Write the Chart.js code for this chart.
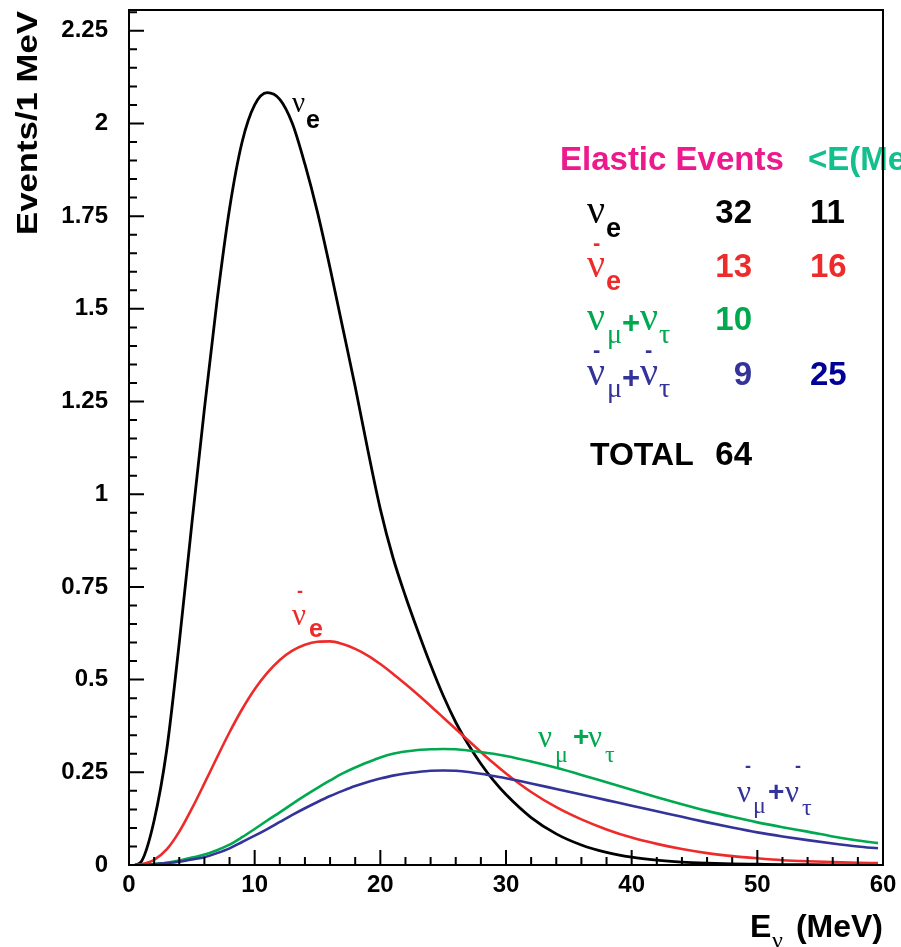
<!DOCTYPE html>
<html>
<head>
<meta charset="utf-8">
<script src="https://cdn.jsdelivr.net/npm/chart.js@4.4.1/dist/chart.umd.min.js"></script>
<style>
  html, body { margin: 0; padding: 0; background: #fff; }
  canvas { display: block; }
</style>
</head>
<body>
<canvas id="grafico" width="901" height="947"></canvas>
<script>
// ===== DADOS =====
const energias = [0.5, 1, 2, 3, 4, 5, 6, 7, 8, 9, 10, 11, 12, 13, 14, 15, 16, 17, 18, 19, 20,
    21, 22, 23, 24, 25, 26, 27, 28, 29, 30, 32, 34, 36, 38, 40, 42, 44, 46, 48, 50,
    52, 54, 56, 58, 59.6];

const nuE = [0, 0.01, 0.12, 0.31, 0.6, 0.92, 1.23, 1.52, 1.77, 1.95, 2.05, 2.083, 2.065, 2.0,
    1.89, 1.76, 1.61, 1.45, 1.29, 1.12, 0.96, 0.83, 0.725, 0.63, 0.54, 0.457, 0.385, 0.325,
    0.273, 0.228, 0.19, 0.128, 0.084, 0.054, 0.034, 0.021, 0.013, 0.008, 0.005, 0.003, 0.002,
    0.001, 0.0007, 0.0004, 0.0002, 0.0001];

const nuEbar = [0, 0.002, 0.014, 0.042, 0.09, 0.152, 0.22, 0.29, 0.358, 0.42, 0.474, 0.518,
    0.553, 0.578, 0.594, 0.602, 0.603, 0.596, 0.583, 0.565, 0.542, 0.516, 0.488, 0.459, 0.429,
    0.398, 0.367, 0.336, 0.305, 0.275, 0.247, 0.197, 0.156, 0.123, 0.096, 0.074, 0.057, 0.043,
    0.032, 0.024, 0.018, 0.013, 0.01, 0.008, 0.006, 0.005];

const nuMuTau = [0, 0, 0.003, 0.006, 0.012, 0.02, 0.028, 0.04, 0.055, 0.075, 0.097, 0.12, 0.142,
    0.165, 0.187, 0.208, 0.228, 0.247, 0.263, 0.277, 0.29, 0.3, 0.306, 0.31, 0.312, 0.313,
    0.312, 0.309, 0.305, 0.3, 0.294, 0.279, 0.262, 0.243, 0.223, 0.203, 0.183, 0.164, 0.146,
    0.13, 0.115, 0.102, 0.09, 0.077, 0.066, 0.059];

const nuMuTauBar = [0, 0, 0.002, 0.005, 0.009, 0.015, 0.021, 0.032, 0.045, 0.062, 0.079, 0.097,
    0.116, 0.135, 0.153, 0.17, 0.186, 0.2, 0.213, 0.224, 0.233, 0.241, 0.247, 0.251, 0.254,
    0.255, 0.254, 0.251, 0.246, 0.24, 0.234, 0.22, 0.205, 0.19, 0.175, 0.16, 0.145, 0.13,
    0.115, 0.101, 0.088, 0.077, 0.067, 0.058, 0.05, 0.045];

// tabela "Elastic Events"
const eventos = ["32", "13", "10", "9"];
const energiaMedia = ["11", "16", "", "25"];
const totalEventos = "64";

const Y_MAX = 2.306;

// ===== CORES =====
const PRETO = "#000000";
const VERMELHO = "#ee2b2b";
const VERDE = "#00a84f";
const AZUL = "#333399";
const AZUL_ESCURO = "#000096";
const MAGENTA = "#ec1a8c";
const TURQUESA = "#12c08e";

const SANS = "Liberation Sans";
const SERIF = "Liberation Serif";

function pontos(valores) {
    return energias.map((e, i) => ({ x: e, y: valores[i] }));
}

// desenha pedacos de texto relativos a um ponto (x, y)
function rotulo(ctx, x, y, cor, pecas) {
    ctx.fillStyle = cor;
    ctx.textAlign = "left";
    ctx.textBaseline = "alphabetic";
    pecas.forEach(p => {
        ctx.font = p[1];
        ctx.fillText(p[0], x + p[2], y + p[3]);
    });
}

function txt(ctx, t, x, y, font, cor, align) {
    ctx.font = font;
    ctx.fillStyle = cor;
    ctx.textAlign = align || "left";
    ctx.textBaseline = "alphabetic";
    ctx.fillText(t, x, y);
}

// ===== PLUGIN: moldura, ticks internos, textos =====
const extras = {
    id: "extras",
    afterDatasetsDraw(chart) {
        const ctx = chart.ctx;
        const xs = chart.scales.x;
        const ys = chart.scales.y;
        const a = chart.chartArea;

        ctx.save();

        // ---- rotulos das curvas (ancorados em coordenadas de dados) ----
        let px = xs.getPixelForValue(12.97), py = ys.getPixelForValue(2.031);
        rotulo(ctx, px, py, PRETO, [
            ["ν", "29px " + SERIF, 0, 0],
            ["e", "bold 25px " + SANS, 14, 16]
        ]);

        px = xs.getPixelForValue(12.97); py = ys.getPixelForValue(0.647);
        rotulo(ctx, px, py, VERMELHO, [
            ["-", "bold 18px " + SANS, 5, -28],
            ["ν", "31px " + SERIF, 0, 0],
            ["e", "bold 25px " + SANS, 17, 12]
        ]);

        px = xs.getPixelForValue(32.55); py = ys.getPixelForValue(0.318);
        rotulo(ctx, px, py, VERDE, [
            ["ν", "31px " + SERIF, 0, 0],
            ["μ", "24px " + SERIF, 17, 15],
            ["+", "bold 28px " + SANS, 35, -1],
            ["ν", "31px " + SERIF, 50, 0],
            ["τ", "24px " + SERIF, 67, 15]
        ]);

        px = xs.getPixelForValue(48.38); py = ys.getPixelForValue(0.170);
        rotulo(ctx, px, py, AZUL, [
            ["-", "bold 18px " + SANS, 8, -30],
            ["ν", "31px " + SERIF, 0, 0],
            ["μ", "24px " + SERIF, 16, 11],
            ["+", "bold 28px " + SANS, 31, -1],
            ["-", "bold 18px " + SANS, 58, -30],
            ["ν", "31px " + SERIF, 48, 0],
            ["τ", "24px " + SERIF, 65, 13]
        ]);

        // ---- tabela ----
        txt(ctx, "Elastic Events", 560, 170, "bold 33px " + SANS, MAGENTA);
        txt(ctx, "<E(MeV)>", 808, 170, "bold 33px " + SANS, TURQUESA);

        const nu = "40px " + SERIF;
        const sub = "bold 27px " + SANS;
        const grego = "28px " + SERIF;
        const mais = "bold 31px " + SANS;
        const barra = "bold 22px " + SANS;

        rotulo(ctx, 587, 223, PRETO, [["ν", nu, 0, 0], ["e", sub, 19, 14]]);
        rotulo(ctx, 587, 277, VERMELHO, [["-", barra, 6, -27], ["ν", nu, 0, 0], ["e", sub, 19, 13]]);
        rotulo(ctx, 587, 330, VERDE, [
            ["ν", nu, 0, 0], ["μ", grego, 20, 13], ["+", mais, 35, 3],
            ["ν", nu, 53, 0], ["τ", grego, 72, 13]
        ]);
        rotulo(ctx, 587, 385, AZUL, [
            ["-", barra, 6, -28], ["ν", nu, 0, 0], ["μ", grego, 20, 12], ["+", mais, 35, 3],
            ["-", barra, 58, -28], ["ν", nu, 53, 0], ["τ", grego, 72, 12]
        ]);

        const num = "bold 33px " + SANS;
        const linhas = [223, 277, 330, 385];
        const coresEv = [PRETO, VERMELHO, VERDE, AZUL];
        const coresE = [PRETO, VERMELHO, VERDE, AZUL_ESCURO];
        linhas.forEach((y, i) => {
            txt(ctx, eventos[i], 752, y, num, coresEv[i], "right");
            if (energiaMedia[i]) txt(ctx, energiaMedia[i], 810, y, num, coresE[i], "left");
        });
        txt(ctx, "TOTAL", 590, 465, "bold 32px " + SANS, PRETO);
        txt(ctx, totalEventos, 752, 465, num, PRETO, "right");

        // ---- moldura ----
        ctx.strokeStyle = PRETO;
        ctx.lineWidth = 2;
        ctx.strokeRect(a.left, a.top, a.right - a.left, a.bottom - a.top);

        // ---- ticks para dentro ----
        ctx.beginPath();
        for (let k = 0; k <= 30; k++) {
            const x = xs.getPixelForValue(k * 2);
            const len = (k % 5 === 0) ? 15 : 8;
            ctx.moveTo(x, a.bottom);
            ctx.lineTo(x, a.bottom - len);
        }
        const nMax = Math.floor(Y_MAX / 0.05 + 1e-6);
        for (let k = 0; k <= nMax; k++) {
            const y = ys.getPixelForValue(k * 0.05);
            const len = (k % 5 === 0) ? 15 : 8;
            ctx.moveTo(a.left, y);
            ctx.lineTo(a.left + len, y);
        }
        ctx.stroke();

        // ---- titulos dos eixos ----
        txt(ctx, "E", 750, 937, "bold 32px " + SANS, PRETO);
        txt(ctx, "ν", 772, 948, "24px " + SERIF, PRETO);
        txt(ctx, "(MeV)", 883, 937, "bold 32px " + SANS, PRETO, "right");

        ctx.save();
        ctx.translate(37, 235);
        ctx.rotate(-Math.PI / 2);
        ctx.font = "bold 30px " + SANS;
        const tituloY = "Events/1 MeV";
        const w = ctx.measureText(tituloY).width;
        ctx.scale(224 / w, 1);
        ctx.fillStyle = PRETO;
        ctx.textAlign = "left";
        ctx.textBaseline = "alphabetic";
        ctx.fillText(tituloY, 0, 0);
        ctx.restore();

        ctx.restore();
    }
};

// ===== GRAFICO =====
const ctx = document.getElementById("grafico").getContext("2d");

const serie = (valores, cor, largura) => ({
    data: pontos(valores),
    borderColor: cor,
    borderWidth: largura,
    pointRadius: 0,
    fill: false,
    cubicInterpolationMode: "monotone"
});

window.grafico = new Chart(ctx, {
    type: "line",
    data: {
        datasets: [
            serie(nuMuTauBar, AZUL, 2.6),
            serie(nuMuTau, VERDE, 2.6),
            serie(nuEbar, VERMELHO, 2.6),
            serie(nuE, PRETO, 2.8)
        ]
    },
    options: {
        responsive: false,
        animation: false,
        devicePixelRatio: 1,
        layout: { padding: { top: 10, right: 18, left: 0, bottom: 0 } },
        plugins: {
            legend: { display: false },
            tooltip: { enabled: false }
        },
        scales: {
            x: {
                type: "linear",
                min: 0,
                max: 60,
                grid: { display: false, drawTicks: false },
                border: { display: false },
                ticks: {
                    stepSize: 10,
                    padding: 6,
                    color: PRETO,
                    font: { family: SANS, size: 24, weight: "bold" },
                    maxRotation: 0
                },
                afterFit(scale) {
                    scale.height = 82;
                    scale.paddingLeft = 0;
                    scale.paddingRight = 0;
                }
            },
            y: {
                min: 0,
                max: Y_MAX,
                grid: { display: false, drawTicks: false },
                border: { display: false },
                ticks: {
                    stepSize: 0.25,
                    includeBounds: false,
                    padding: 21,
                    color: PRETO,
                    font: { family: SANS, size: 24, weight: "bold" },
                    callback: v => String(+v.toFixed(2))
                },
                afterFit(scale) {
                    scale.width = 129;
                    scale.paddingTop = 0;
                    scale.paddingBottom = 0;
                }
            }
        }
    },
    plugins: [extras]
});
</script>
</body>
</html>
